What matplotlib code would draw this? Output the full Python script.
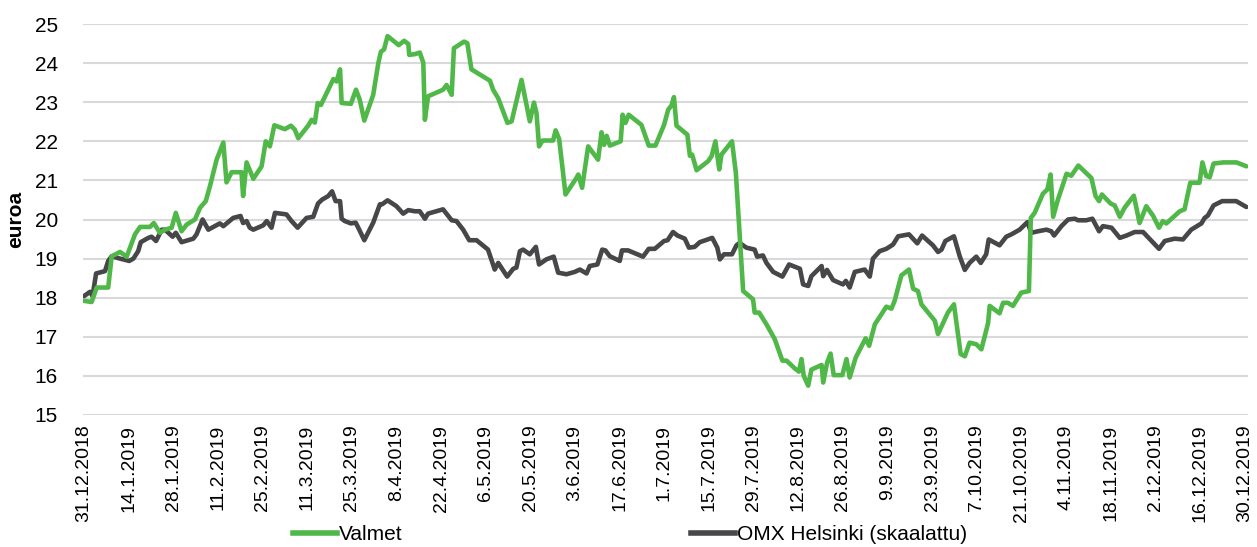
import matplotlib
matplotlib.use("Agg")
import matplotlib.pyplot as plt
from matplotlib.lines import Line2D

# ---- data (x = days since 31.12.2018) ----
valmet_days = [0, 2.4, 4.0, 7.6, 8.7, 11.3, 13.4, 16.0, 17.6, 20.7, 21.9, 23.8, 25.4, 27.5, 28.8, 30.6,
               32.2, 34.8, 36.4, 38.2, 39.5, 41.6, 43.7, 44.7, 46.3, 49.4, 49.9, 51.0, 53.1, 55.7, 57.0,
               58.3, 59.7, 63.0, 64.9, 66.1, 67.2, 70.3, 71.4, 72.4, 73.3, 74.3, 78.2, 79.2, 80.3, 80.8,
               83.7, 85.3, 86.5, 87.9, 90.7, 92.3, 93.1, 94.1, 95.2, 98.7, 100.4, 101.7, 102.0, 103.8,
               105.3, 106.4, 106.9, 107.9, 112.6, 113.7, 115.3, 116.0, 119.2, 120.2, 121.5, 127.3, 128.3,
               129.9, 132.8, 134.1, 137.2, 139.8, 141.1, 141.9, 142.7, 143.8, 147.1, 147.9, 149.0, 151.0,
               154.4, 155.0, 156.2, 158.1, 161.2, 162.3, 163.1, 163.9, 164.9, 168.3, 168.9, 169.8, 170.8,
               174.8, 177.1, 179.2, 181.9, 183.2, 184.2, 185.0, 185.8, 189.2, 190.0, 190.7, 192.1, 195.7,
               196.8, 198.0, 199.2, 199.9, 203.2, 204.4, 205.6, 206.7, 209.8, 210.3, 211.7, 214.0, 216.6,
               219.0, 220.3, 222.9, 224.2, 225.0, 225.7, 227.1, 228.1, 231.3, 231.8, 233.0, 234.1, 235.1,
               237.8, 239.1, 240.1, 242.0, 245.1, 246.2, 248.0, 251.6, 253.2, 254.2, 256.3, 258.7, 260.0,
               261.5, 262.6, 266.8, 267.8, 270.9, 272.8, 274.9, 276.2, 277.7, 279.8, 281.4, 283.5, 284.0,
               287.1, 288.2, 289.7, 291.3, 293.9, 296.3, 296.9, 298.1, 300.7, 302.1, 303.1, 303.9, 305.4,
               308.1, 309.6, 311.8, 315.9, 317.2, 318.3, 319.2, 321.9, 323.2, 324.8, 326.3, 329.2, 331.0,
               333.1, 335.2, 337.1, 338.3, 339.4, 343.6, 345.1, 346.9, 349.8, 350.7, 351.9, 353.0, 354.2,
               357.2, 361.4, 364.5]
valmet_vals = [17.92, 17.89, 18.26, 18.26, 19.06, 19.17, 19.05, 19.62, 19.81, 19.81, 19.91, 19.66, 19.74,
               19.79, 20.17, 19.70, 19.87, 20.00, 20.30, 20.47, 20.85, 21.53, 21.97, 20.95, 21.21, 21.21,
               20.60, 21.46, 21.04, 21.36, 22.00, 21.87, 22.41, 22.31, 22.40, 22.30, 22.08, 22.40, 22.55,
               22.48, 22.98, 22.93, 23.59, 23.53, 23.84, 22.98, 22.96, 23.32, 23.06, 22.53, 23.19, 24.00,
               24.29, 24.35, 24.69, 24.46, 24.57, 24.49, 24.21, 24.23, 24.27, 24.01, 22.55, 23.15, 23.32,
               23.44, 23.19, 24.38, 24.55, 24.51, 23.84, 23.55, 23.32, 23.10, 22.47, 22.51, 23.57, 22.51,
               22.99, 22.72, 21.87, 22.02, 22.02, 22.28, 22.06, 20.64, 21.06, 21.15, 20.81, 21.87, 21.53,
               22.23, 21.91, 22.14, 21.89, 22.00, 22.68, 22.47, 22.68, 22.42, 21.89, 21.89, 22.42, 22.81,
               22.91, 23.13, 22.40, 22.17, 21.63, 21.66, 21.26, 21.49, 21.62, 22.00, 21.28, 21.66, 22.00,
               21.20, 19.60, 18.17, 17.96, 17.62, 17.62, 17.32, 16.94, 16.39, 16.39, 16.19, 16.11, 16.43,
               16.00, 15.75, 16.16, 16.28, 15.83, 16.33, 16.57, 16.02, 16.02, 16.43, 15.96, 16.47, 16.96,
               16.77, 17.32, 17.77, 17.72, 17.92, 18.57, 18.72, 18.23, 18.17, 17.83, 17.41, 17.07, 17.62,
               17.83, 16.56, 16.50, 16.85, 16.81, 16.68, 17.35, 17.79, 17.60, 17.87, 17.87, 17.79, 18.13,
               18.17, 20.04, 20.17, 20.66, 20.77, 21.15, 20.07, 20.51, 21.17, 21.12, 21.38, 21.06, 20.60,
               20.47, 20.64, 20.41, 20.36, 20.07, 20.30, 20.61, 19.91, 20.34, 20.10, 19.79, 19.96, 19.90,
               20.21, 20.26, 20.94, 20.94, 21.46, 21.11, 21.08, 21.43, 21.46, 21.46, 21.36]

omx_days = [0, 1.9, 2.7, 3.8, 6.6, 7.6, 8.7, 11.3, 14.2, 15.5, 17.0, 17.8, 20.2, 21.2, 22.6, 24.4, 25.4,
            27.8, 28.8, 30.6, 34.3, 35.3, 37.2, 39.0, 42.6, 43.7, 46.8, 49.1, 49.9, 51.0, 52.0, 53.1, 56.2,
            57.3, 58.8, 59.9, 63.5, 65.1, 67.0, 69.8, 71.9, 73.4, 74.7, 76.6, 77.8, 78.9, 80.3, 80.8, 81.8,
            83.7, 85.2, 86.2, 87.9, 90.7, 92.8, 93.5, 95.2, 98.0, 100.1, 101.7, 103.8, 105.3, 106.9, 107.9,
            112.6, 115.3, 116.8, 118.9, 120.8, 123.1, 126.7, 128.8, 129.9, 132.7, 134.6, 135.6, 136.7,
            137.7, 139.8, 141.7, 142.7, 145.0, 147.3, 148.7, 151.3, 153.9, 155.5, 157.6, 158.6, 161.0,
            162.5, 163.5, 164.9, 168.0, 168.7, 170.6, 175.3, 177.1, 179.0, 181.9, 183.0, 184.7, 186.1,
            188.4, 189.7, 191.5, 193.1, 197.0, 198.6, 199.4, 200.7, 203.2, 204.6, 205.6, 207.7, 210.3,
            211.1, 212.9, 214.0, 216.1, 219.0, 221.1, 224.5, 225.5, 227.1, 228.1, 231.3, 231.8, 233.0,
            234.9, 238.0, 238.9, 240.1, 241.7, 244.8, 246.4, 247.4, 249.5, 251.6, 253.7, 255.3, 258.7,
            261.3, 262.8, 266.2, 267.8, 268.9, 270.1, 272.8, 274.6, 276.2, 277.7, 279.8, 281.2, 282.9,
            283.7, 287.1, 289.2, 290.8, 293.4, 295.8, 297.1, 299.2, 301.8, 303.3, 304.2, 306.5, 308.6,
            310.7, 311.7, 314.3, 316.2, 318.3, 319.5, 322.2, 324.8, 326.9, 329.5, 332.1, 337.1, 338.9,
            342.0, 344.6, 347.2, 350.4, 351.4, 352.4, 354.2, 356.9, 361.3, 364.5]
omx_vals = [18.04, 18.15, 18.04, 18.62, 18.68, 18.94, 19.06, 19.00, 18.94, 19.00, 19.19, 19.42, 19.53,
            19.56, 19.45, 19.74, 19.74, 19.56, 19.66, 19.42, 19.51, 19.62, 20.00, 19.74, 19.90, 19.83,
            20.04, 20.09, 19.91, 19.96, 19.79, 19.74, 19.85, 19.96, 19.79, 20.17, 20.13, 19.96, 19.79,
            20.04, 20.07, 20.41, 20.51, 20.60, 20.72, 20.47, 20.47, 20.02, 19.96, 19.90, 19.92, 19.76,
            19.47, 19.92, 20.39, 20.39, 20.49, 20.34, 20.15, 20.24, 20.21, 20.21, 20.02, 20.15, 20.26,
            19.98, 19.96, 19.74, 19.47, 19.47, 19.23, 18.72, 18.89, 18.54, 18.74, 18.77, 19.19, 19.23,
            19.11, 19.30, 18.85, 18.98, 19.05, 18.64, 18.60, 18.66, 18.72, 18.62, 18.81, 18.85, 19.23,
            19.21, 19.06, 18.94, 19.21, 19.21, 19.05, 19.25, 19.25, 19.45, 19.47, 19.68, 19.59, 19.51,
            19.28, 19.30, 19.42, 19.53, 19.28, 18.98, 19.11, 19.11, 19.34, 19.40, 19.28, 19.23, 19.05,
            19.08, 18.89, 18.66, 18.54, 18.85, 18.74, 18.34, 18.30, 18.55, 18.81, 18.55, 18.71, 18.45,
            18.34, 18.43, 18.26, 18.66, 18.72, 18.54, 19.00, 19.19, 19.25, 19.36, 19.57, 19.62, 19.39,
            19.59, 19.34, 19.17, 19.23, 19.45, 19.57, 19.06, 18.71, 18.89, 19.05, 18.89, 19.11, 19.49,
            19.34, 19.56, 19.62, 19.74, 19.93, 19.66, 19.70, 19.74, 19.70, 19.59, 19.83, 20.00, 20.02,
            19.98, 19.98, 20.02, 19.70, 19.83, 19.79, 19.53, 19.59, 19.68, 19.68, 19.25, 19.45, 19.51,
            19.49, 19.74, 19.90, 20.04, 20.10, 20.36, 20.47, 20.47, 20.32]

tick_days = list(range(0, 365, 14))
tick_labels = ["31.12.2018", "14.1.2019", "28.1.2019", "11.2.2019", "25.2.2019", "11.3.2019",
               "25.3.2019", "8.4.2019", "22.4.2019", "6.5.2019", "20.5.2019", "3.6.2019",
               "17.6.2019", "1.7.2019", "15.7.2019", "29.7.2019", "12.8.2019", "26.8.2019",
               "9.9.2019", "23.9.2019", "7.10.2019", "21.10.2019", "4.11.2019", "18.11.2019",
               "2.12.2019", "16.12.2019", "30.12.2019"]
y_ticks = list(range(15, 26))

series_names = ["Valmet", "OMX Helsinki (skaalattu)"]
GREEN = "#50B848"
GREY = "#474749"

plt.rcParams['font.family'] = ['Liberation Sans', 'DejaVu Sans']

fig = plt.figure(figsize=(12.57, 5.47), dpi=100)
ax = fig.add_axes([83/1257, 1 - 415/547, (1248 - 83)/1257, (415 - 24)/547])

ax.plot(omx_days, omx_vals, color=GREY, lw=3.3, solid_joinstyle='round', solid_capstyle='round', zorder=3)
ax.plot(valmet_days, valmet_vals, color=GREEN, lw=3.3, solid_joinstyle='round', solid_capstyle='round', zorder=4)

ax.set_xlim(-0.3, 365)
ax.set_ylim(15, 25)
ax.set_yticks(y_ticks)
ax.set_yticklabels([str(v) for v in y_ticks], fontsize=15)
ax.set_xticks(tick_days)
ax.set_xticklabels(tick_labels, rotation=90, fontsize=14, va='top', ha='center')
ax.tick_params(axis='both', length=0)
ax.tick_params(axis='x', pad=7)
ax.tick_params(axis='y', pad=18)
ax.grid(axis='y', color='#D9D9D9', lw=1.5)
ax.set_axisbelow(True)
for s in ax.spines.values():
    s.set_visible(False)

ax.set_ylabel("euroa", fontsize=15, fontweight='bold')
ax.yaxis.set_label_coords(-0.05, 0.5)

h1 = Line2D([], [], color=GREEN, lw=4)
h2 = Line2D([], [], color=GREY, lw=4)
fig.legend([h1], [series_names[0]], loc='center left', bbox_to_anchor=(293/1257, 1 - 535/547),
           frameon=False, fontsize=15, handlelength=2.1, handletextpad=0.1, borderpad=0, borderaxespad=0)
fig.legend([h2], [series_names[1]], loc='center left', bbox_to_anchor=(691/1257, 1 - 535/547),
           frameon=False, fontsize=15, handlelength=2.1, handletextpad=0.1, borderpad=0, borderaxespad=0)

fig.savefig("out.png", dpi=100)
